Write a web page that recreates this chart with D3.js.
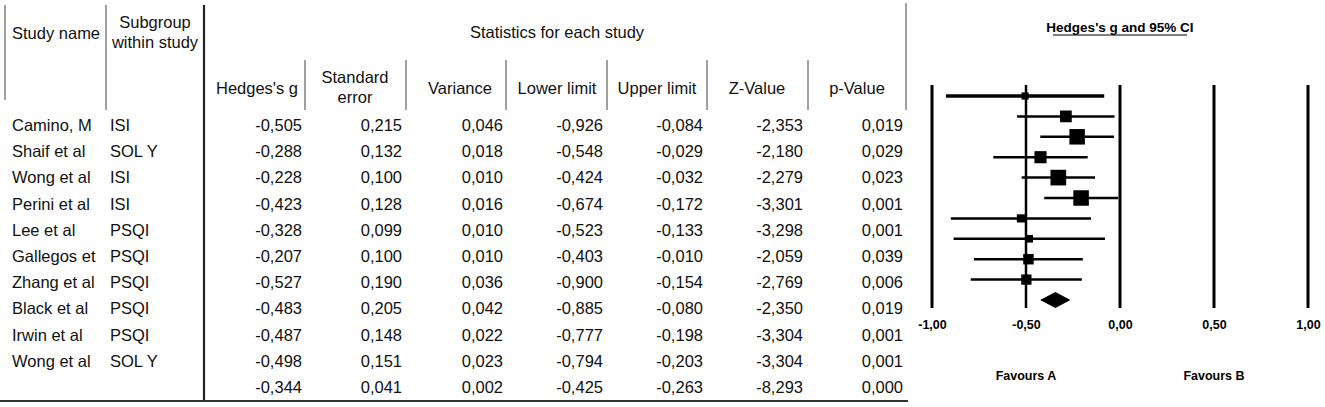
<!DOCTYPE html>
<html>
<head>
<meta charset="utf-8">
<script src="https://cdn.jsdelivr.net/npm/d3@7"></script>
<style>
  body { margin: 0; background: #fff; }
  svg { display: block; font-family: "Liberation Sans", Arial, sans-serif; }
  .cell { font-size: 16.5px; fill: #111; }
  .bold { font-weight: bold; fill: #000; }
</style>
</head>
<body>
<svg width="1325" height="407"></svg>
<script>
// study rows, the last row is the summary (no name)
var studies = ["Camino, M", "Shaif et al", "Wong et al", "Perini et al", "Lee et al",
  "Gallegos et", "Zhang et al", "Black et al", "Irwin et al", "Wong et al", ""];
var subgroups = ["ISI", "SOL Y", "ISI", "ISI", "PSQI", "PSQI", "PSQI", "PSQI", "PSQI", "SOL Y", ""];
var hedgesG = [-0.505, -0.288, -0.228, -0.423, -0.328, -0.207, -0.527, -0.483, -0.487, -0.498, -0.344];
var stdErr = [0.215, 0.132, 0.100, 0.128, 0.099, 0.100, 0.190, 0.205, 0.148, 0.151, 0.041];
var variance = [0.046, 0.018, 0.010, 0.016, 0.010, 0.010, 0.036, 0.042, 0.022, 0.023, 0.002];
var lowerLimit = [-0.926, -0.548, -0.424, -0.674, -0.523, -0.403, -0.900, -0.885, -0.777, -0.794, -0.425];
var upperLimit = [-0.084, -0.029, -0.032, -0.172, -0.133, -0.010, -0.154, -0.080, -0.198, -0.203, -0.263];
var zValue = [-2.353, -2.180, -2.279, -3.301, -3.298, -2.059, -2.769, -2.350, -3.304, -3.304, -8.293];
var pValue = [0.019, 0.029, 0.023, 0.001, 0.001, 0.039, 0.006, 0.019, 0.001, 0.001, 0.000];

var plotTicks = [-1, -0.5, 0, 0.5, 1];

var svg = d3.select("svg");
var locale = d3.formatLocale({ decimal: ",", thousands: ".", grouping: [3], currency: ["", ""], minus: "-" });
var fmt3 = locale.format(".3f");
var fmt2 = locale.format(".2f");

// ---- table ----
var rowY = d3.scaleLinear().domain([0, studies.length - 1]).range([125, 387]);

var gridColor = "#808080";
function vline(x, y1, y2, color, w) {
  svg.append("line").attr("x1", x).attr("x2", x).attr("y1", y1).attr("y2", y2)
    .attr("stroke", color).attr("stroke-width", w);
}
vline(5, 5, 100, gridColor, 1.5);
vline(106, 5, 110, gridColor, 1.5);
vline(906, 3, 110, gridColor, 1.5);
[305, 406, 506, 607, 707, 808].forEach(function (x) { vline(x, 60, 110, gridColor, 1.5); });
vline(204, 5, 400, "#222", 2.2);
svg.append("line").attr("x1", 0).attr("x2", 908).attr("y1", 401).attr("y2", 401)
  .attr("stroke", "#333").attr("stroke-width", 2);

function label(x, y, t, anchor) {
  svg.append("text").attr("class", "cell").attr("x", x).attr("y", y)
    .attr("dominant-baseline", "central").attr("text-anchor", anchor || "middle").text(t);
}
label(12, 33, "Study name", "start");
label(155, 22, "Subgroup");
label(155, 42, "within study");
label(557, 32, "Statistics for each study");
label(257, 88, "Hedges's g");
label(355, 77, "Standard");
label(355, 97, "error");
label(460, 88, "Variance");
label(557, 88, "Lower limit");
label(657, 88, "Upper limit");
label(757, 88, "Z-Value");
label(857, 88, "p-Value");

var columns = [
  { values: hedgesG, right: 302 },
  { values: stdErr, right: 402 },
  { values: variance, right: 503 },
  { values: lowerLimit, right: 603 },
  { values: upperLimit, right: 703 },
  { values: zValue, right: 803 },
  { values: pValue, right: 903 }
];

var rows = svg.selectAll(".row").data(studies).enter().append("g")
  .attr("class", "row")
  .attr("transform", function (d, i) { return "translate(0," + rowY(i) + ")"; });
rows.append("text").attr("class", "cell").attr("x", 12).attr("dominant-baseline", "central")
  .text(function (d) { return d; });
rows.append("text").attr("class", "cell").attr("x", 110).attr("dominant-baseline", "central")
  .text(function (d, i) { return subgroups[i]; });
columns.forEach(function (c) {
  rows.append("text").attr("class", "cell").attr("x", c.right).attr("text-anchor", "end")
    .attr("dominant-baseline", "central")
    .text(function (d, i) { return fmt3(c.values[i]); });
});

// ---- forest plot ----
var x = d3.scaleLinear().domain([-1, 1]).range([932, 1308]);
var y = d3.scaleLinear().domain([0, studies.length - 1]).range([96, 300]);
var boxSize = d3.scaleSqrt().domain([0, 100]).range([0, 15.5]);

svg.append("text").attr("class", "bold").attr("x", 1120).attr("y", 27)
  .attr("text-anchor", "middle").attr("dominant-baseline", "central")
  .style("font-size", "13.5px").text("Hedges's g and 95% CI");
svg.append("line").attr("x1", 1053).attr("x2", 1187).attr("y1", 35).attr("y2", 35)
  .attr("stroke", "#000").attr("stroke-width", 1.2);

svg.selectAll(".ref").data(plotTicks).enter().append("line")
  .attr("class", "ref")
  .attr("x1", function (d) { return x(d); }).attr("x2", function (d) { return x(d); })
  .attr("y1", 85).attr("y2", 308)
  .attr("stroke", "#000").attr("stroke-width", function (d) { return d === -0.5 ? 2.5 : 3; });

var axis = d3.axisBottom(x).tickValues(plotTicks).tickFormat(fmt2).tickSize(0).tickPadding(0);
var ax = svg.append("g").attr("transform", "translate(0,320)").call(axis);
ax.select(".domain").remove();
ax.selectAll("text").attr("class", "bold").style("font-size", "12.5px")
  .style("font-family", "'Liberation Sans', Arial, sans-serif");

var n = studies.length - 1;
var study = d3.range(n);
svg.selectAll(".ci").data(study).enter().append("line")
  .attr("class", "ci")
  .attr("x1", function (i) { return x(lowerLimit[i]); })
  .attr("x2", function (i) { return x(upperLimit[i]); })
  .attr("y1", function (i) { return y(i); }).attr("y2", function (i) { return y(i); })
  .attr("stroke", "#000").attr("stroke-width", function (i) { return i === 0 ? 3.5 : 2.5; });

svg.selectAll(".box").data(study).enter().append("rect")
  .attr("class", "box")
  .attr("x", function (i) { return x(hedgesG[i]) - boxSize(1 / (stdErr[i] * stdErr[i])) / 2; })
  .attr("y", function (i) { return y(i) - boxSize(1 / (stdErr[i] * stdErr[i])) / 2; })
  .attr("width", function (i) { return boxSize(1 / (stdErr[i] * stdErr[i])); })
  .attr("height", function (i) { return boxSize(1 / (stdErr[i] * stdErr[i])); })
  .attr("fill", "#000");

var yd = y(n), h = 8;
svg.append("path")
  .attr("d", "M" + x(lowerLimit[n]) + "," + yd + "L" + x(hedgesG[n]) + "," + (yd - h) +
    "L" + x(upperLimit[n]) + "," + yd + "L" + x(hedgesG[n]) + "," + (yd + h) + "Z")
  .attr("fill", "#000");

svg.append("text").attr("class", "bold").attr("x", x(-0.5)).attr("y", 376)
  .attr("text-anchor", "middle").attr("dominant-baseline", "central")
  .style("font-size", "12.5px").text("Favours A");
svg.append("text").attr("class", "bold").attr("x", x(0.5)).attr("y", 376)
  .attr("text-anchor", "middle").attr("dominant-baseline", "central")
  .style("font-size", "12.5px").text("Favours B");
</script>
</body>
</html>
